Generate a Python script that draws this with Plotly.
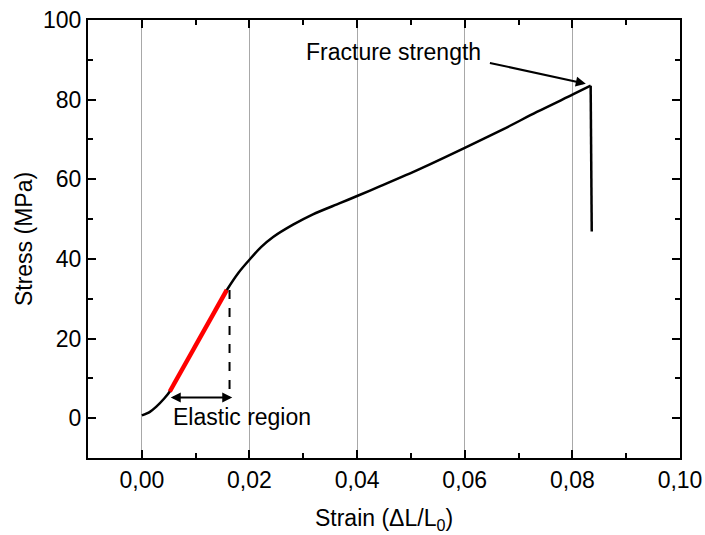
import plotly.graph_objects as go

# Tensile test: engineering stress vs. strain
strain = [0.0, 0.0015, 0.0027, 0.0042, 0.0052, 0.008, 0.011, 0.014, 0.0158,
          0.018, 0.02, 0.0222, 0.0244, 0.0281, 0.0318, 0.0368, 0.04, 0.0442,
          0.0517, 0.0602, 0.0672, 0.0734, 0.0801, 0.0834, 0.0836]
stress = [0.7, 1.6, 2.9, 5.0, 6.7, 13.5, 20.8, 28.0, 32.2,
          36.6, 39.8, 43.0, 45.5, 48.6, 51.2, 54.0, 55.8, 58.2,
          62.6, 68.0, 72.6, 76.9, 81.3, 83.5, 46.9]

# linear (elastic) part of the curve
elastic_start, elastic_end = 4, 8
elastic_strain = strain[elastic_start:elastic_end + 1]
elastic_stress = stress[elastic_start:elastic_end + 1]

x_ticks = [0.0, 0.02, 0.04, 0.06, 0.08, 0.10]
y_ticks = [0, 20, 40, 60, 80, 100]

FONT = "Arial, Liberation Sans, sans-serif"
FS = 23

fig = go.Figure()
# loading curve up to fracture (smoothed) and the drop at fracture
fig.add_trace(go.Scatter(x=strain[:-1], y=stress[:-1], mode="lines",
                         line=dict(color="black", width=2.5, shape="spline",
                                   smoothing=0.8),
                         showlegend=False))
fig.add_trace(go.Scatter(x=strain[-2:], y=stress[-2:], mode="lines",
                         line=dict(color="black", width=2.5), showlegend=False))
fig.add_trace(go.Scatter(x=elastic_strain, y=elastic_stress, mode="lines",
                         line=dict(color="#ff0000", width=4.5), showlegend=False))

# dashed marker at the end of the elastic region
fig.add_shape(type="line", x0=0.0163, x1=0.0163, y0=32.2, y1=5.2,
              line=dict(color="black", width=2, dash="dash"))

# double-headed arrow spanning the elastic region
fig.add_annotation(x=0.0168, y=5.2, ax=0.0051, ay=5.2, xref="x", yref="y",
                   axref="x", ayref="y", text="", showarrow=True,
                   arrowhead=2, arrowside="end+start", arrowwidth=2,
                   arrowsize=1, arrowcolor="black")
fig.add_annotation(x=0.0055, y=0.3, text="Elastic region", showarrow=False,
                   xanchor="left", yanchor="middle",
                   font=dict(family=FONT, size=FS, color="black"))

# fracture strength label and arrow
fig.add_annotation(x=0.0825, y=84.0, ax=0.0644, ay=89.3, xref="x", yref="y",
                   axref="x", ayref="y", text="", showarrow=True,
                   arrowhead=2, arrowwidth=2, arrowsize=1, arrowcolor="black")
fig.add_annotation(x=0.0467, y=92.0, text="Fracture strength", showarrow=False,
                   xanchor="center", yanchor="middle",
                   font=dict(family=FONT, size=FS, color="black"))

axis_common = dict(
    showline=True, linecolor="black", linewidth=2, mirror="ticks",
    ticks="inside", ticklen=8, tickwidth=2, tickcolor="black",
    zeroline=False, automargin=False,
    tickfont=dict(family=FONT, size=FS, color="black"),
)

fig.update_xaxes(
    range=[-0.01, 0.10], tickvals=x_ticks,
    ticktext=[f"{v:.2f}".replace(".", ",") for v in x_ticks],
    showgrid=True, gridcolor="#a8a8a8", gridwidth=1,
    minor=dict(ticks="inside", ticklen=5, tickwidth=2, tickcolor="black",
               dtick=0.01, tick0=0, showgrid=False),
    title=dict(text="Strain (ΔL/L<sub>0</sub>)", standoff=18,
               font=dict(family=FONT, size=FS, color="black")),
    **axis_common,
)
fig.update_yaxes(
    range=[-10, 100], tickvals=y_ticks, showgrid=False,
    minor=dict(ticks="inside", ticklen=5, tickwidth=2, tickcolor="black",
               dtick=10, tick0=0, showgrid=False),
    title=dict(text="Stress (MPa)", standoff=4,
               font=dict(family=FONT, size=FS, color="black")),
    **axis_common,
)

fig.update_layout(
    width=705, height=535,
    margin=dict(l=88, r=25, t=20, b=77),
    paper_bgcolor="white", plot_bgcolor="white",
    font=dict(family=FONT, size=FS, color="black"),
)

fig.write_html("out.html")
